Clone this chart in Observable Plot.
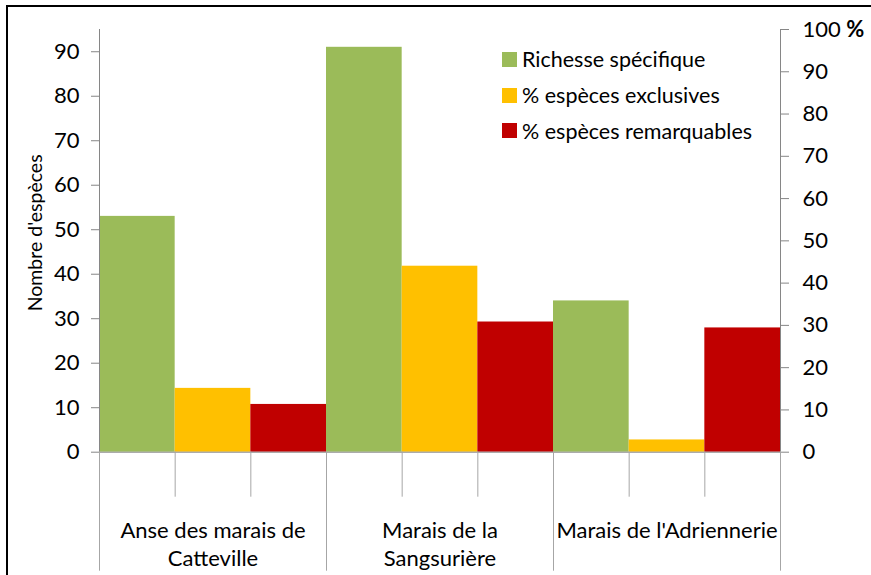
<!DOCTYPE html>
<html><head><meta charset="utf-8">
<script src="https://cdn.jsdelivr.net/npm/d3@7"></script>
<script src="https://cdn.jsdelivr.net/npm/@observablehq/plot@0.6"></script>
<style>
body{margin:0;background:#fff;font-family:Lato, sans-serif;}
#wrap{position:relative;width:871px;height:575px;overflow:hidden;background:#fff;}
#frame{position:absolute;left:6px;top:5px;width:900px;height:620px;border-left:2.5px solid #000;border-top:2.5px solid #000;pointer-events:none;}
#chart{position:absolute;left:0;top:0;}
#legend{position:absolute;left:502px;top:41.5px;font-family:Lato, sans-serif;font-size:21.5px;color:#000;}
#legend .row{display:flex;align-items:center;height:35.7px;white-space:nowrap;}
#legend .sw{width:15px;height:15px;margin-right:5px;flex:none;}
</style></head><body>
<div id="wrap"><div id="chart"></div><div id="legend"></div><div id="frame"></div></div>
<script>
const sites = ["Anse des marais de Catteville", "Marais de la Sangsurière", "Marais de l'Adriennerie"];
const siteLabels = ["Anse des marais de\nCatteville", "Marais de la\nSangsurière", "Marais de l'Adriennerie"];
const seriesNames = ["Richesse spécifique", "% espèces exclusives", "% espèces remarquables"];
const seriesColors = ["#9BBB59", "#FFC000", "#C00000"];
const richesse = [53, 91, 34];
const pctExclusives = [15.1, 44.0, 2.9];
const pctRemarquables = [11.3, 30.8, 29.4];
const leftTicks = [0, 10, 20, 30, 40, 50, 60, 70, 80, 90];
const rightTicks = [0, 10, 20, 30, 40, 50, 60, 70, 80, 90, 100];
const yTitle = "Nombre d'espèces";
const leftMax = 95, rightMax = 100;
const k = leftMax / rightMax;

const bars = [];
sites.forEach((s, i) => {
  [richesse[i], pctExclusives[i] * k, pctRemarquables[i] * k].forEach((v, j) => {
    bars.push({site: s, series: seriesNames[j], idx: i * 3 + j, value: v});
  });
});
const nBars = bars.length;
const groupEdges = d3.range(0, nBars + 1, 3);

const chart = Plot.plot({
  width: 871, height: 575,
  marginLeft: 99, marginRight: 91, marginTop: 29, marginBottom: 123.3,
  style: {fontFamily: "Lato, sans-serif", fontSize: "22px", color: "#000", background: "transparent", overflow: "visible"},
  x: {domain: [0, nBars], axis: null},
  y: {domain: [0, leftMax], axis: null},
  color: {domain: seriesNames, range: seriesColors},
  marks: [
    Plot.rect(bars, {x1: "idx", x2: d => d.idx + 1, y1: 0, y2: "value", fill: "series"}),
    Plot.ruleX([0, nBars], {stroke: "#868686"}),
    Plot.ruleY([0], {stroke: "#868686"}),
    Plot.axisY({anchor: "left", ticks: leftTicks, tickSize: 8, tickPadding: 12, stroke: "#868686", fill: "#000", label: null, fontSize: 22}),
    Plot.axisY({anchor: "right", ticks: rightTicks.map(v => v * k), tickFormat: d => String(Math.round(d / k)), tickSize: 8, tickPadding: 14, stroke: "#868686", fill: "#000", label: null, fontSize: 22}),
    Plot.axisX({anchor: "bottom", ticks: d3.range(0, nBars + 1), tickSize: 45, tickFormat: () => "", stroke: "#a6a6a6", label: null}),
    Plot.axisX({anchor: "bottom", ticks: groupEdges, tickSize: 119, tickFormat: () => "", stroke: "#a6a6a6", label: null}),
    Plot.text(siteLabels, {x: (d, i) => i * 3 + 1.5, y: 0, dy: 66, lineAnchor: "top", lineHeight: 1.27, fontSize: 22, fill: "#000"}),
    Plot.text([yTitle], {frameAnchor: "left", textAnchor: "middle", rotate: -90, dx: -64, dy: -8, fontSize: 19.5, fill: "#000"})
  ]
});

// bold "%" next to the 100 label of the secondary axis
d3.select(chart).selectAll("text").filter(function() { return this.textContent === "100"; })
  .append("tspan").attr("font-weight", "bold").text(" %");

document.getElementById("chart").appendChild(chart);

const legend = d3.select("#legend");
seriesNames.forEach((n, i) => {
  const row = legend.append("div").attr("class", "row");
  row.append("div").attr("class", "sw").style("background", seriesColors[i]);
  row.append("span").text(n);
});
</script>
</body></html>
